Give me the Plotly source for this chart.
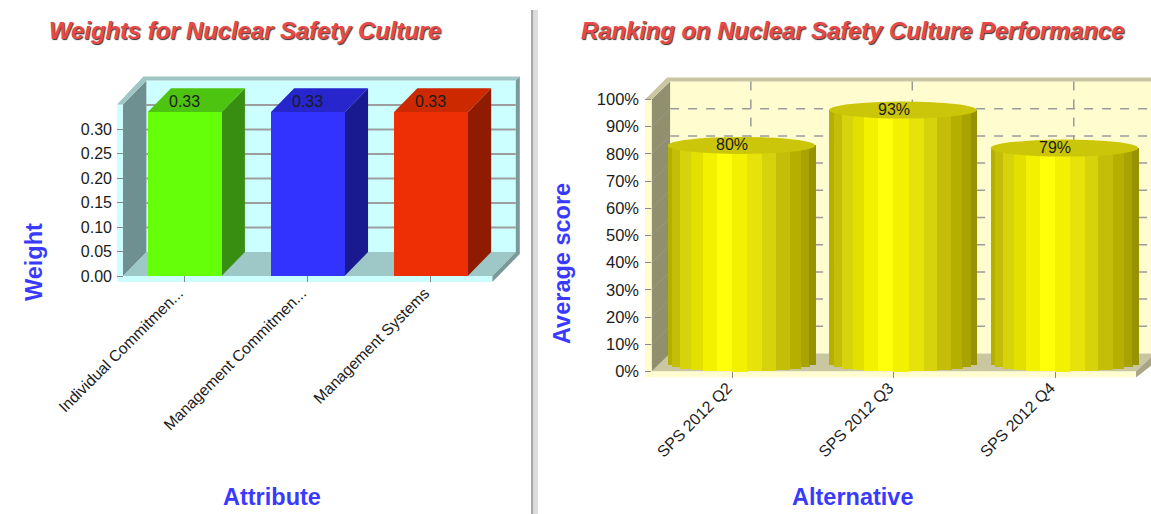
import math
import plotly.graph_objects as go

# ---------- data ----------
attributes = ["Individual Commitmen...", "Management Commitmen...", "Management Systems"]
weights = [0.334, 0.334, 0.334]
weight_ticks = [0.00, 0.05, 0.10, 0.15, 0.20, 0.25, 0.30]

alternatives = ["SPS 2012 Q2", "SPS 2012 Q3", "SPS 2012 Q4"]
scores = [0.80, 0.93, 0.79]
score_ticks = [0.0, 0.1, 0.2, 0.3, 0.4, 0.5, 0.6, 0.7, 0.8, 0.9, 1.0]

# ---------- style ----------
W, H = 1151, 514
BAR_FRONT = ["#66ff0a", "#3333ff", "#ee2e05"]
BAR_TOP = ["#4dc40f", "#2626cc", "#cc2900"]
BAR_SIDE = ["#388e10", "#191a8f", "#8f1c00"]
STRIP_EDGES = [0, .03, .086, .161, .237, .333, .435, .538, .642, .731, .828, .901, .96, 1]
STRIP_COLORS = ["#b5af00", "#c4be08", "#d6d20c", "#e3e000", "#f3f000", "#ffff0a", "#f3f000",
                "#e6e20a", "#d6d20c", "#c4be08", "#b5af00", "#a8a300", "#969200"]
BLUE = "#3a3aff"
TXT = "#1c1c1c"
FAMILY = "Liberation Sans, Arial"
TICK_FONT = dict(family=FAMILY, size=16, color=TXT)

# left panel geometry (pixels)
L = dict(x0=123.0, x1=492.4, y0=276.0, unit=490.0, dx=23.4, dy=24.0, top=0.35,
         pl=117.0, pr=522.0, pt=75.0, pb=282.0)
# right panel geometry (pixels)
R = dict(x0=651.6, x1=1136.0, y0=371.5, unit=272.0, dx=18.5, dy=18.0, top=1.0,
         pl=645.0, pr=1151.0, pt=75.0, pb=377.5)


def band(g):
    return (g["x1"] - g["x0"]) / 3.0


def dx_(g, px):      # pixel x -> data x
    return (px - g["x0"]) / band(g) - 0.5


def dy_(g, py):      # pixel y -> data y
    return (g["y0"] - py) / g["unit"]


def poly(g, xa, ya, pts, fill, line=None):
    path = "M " + " L ".join(f"{dx_(g, x):.5f},{dy_(g, y):.5f}" for x, y in pts) + " Z"
    return dict(type="path", xref=xa, yref=ya, path=path, fillcolor=fill, layer="below",
                line=dict(width=0.5 if line else 0, color=line or fill))


def seg(g, xa, ya, a, b, color, width=1.5, dash="solid"):
    return dict(type="line", xref=xa, yref=ya, x0=dx_(g, a[0]), y0=dy_(g, a[1]), x1=dx_(g, b[0]),
                y1=dy_(g, b[1]), layer="below", line=dict(color=color, width=width, dash=dash))


def py_of(g, v):
    return g["y0"] - v * g["unit"]


def room(g, xa, ya, wall, side_wall, cap, floor, edge, strip, frame_right):
    x0, x1, y0 = g["x0"], g["x1"], g["y0"]
    dx, dy = g["dx"], g["dy"]
    ytop = py_of(g, g["top"])
    s = []
    # back wall
    s.append(poly(g, xa, ya, [(x0 + dx, ytop - dy), (frame_right, ytop - dy), (frame_right, y0 - dy),
                              (x0 + dx, y0 - dy)], wall))
    # floor
    s.append(poly(g, xa, ya, [(x0, y0), (x1, y0), (x1 + dx, y0 - dy), (x0 + dx, y0 - dy)], floor))
    # left wall
    s.append(poly(g, xa, ya, [(x0, y0), (x0 + dx, y0 - dy), (x0 + dx, ytop - dy), (x0, ytop)], side_wall))
    # front strips
    s.append(poly(g, xa, ya, [(g["pl"], ytop), (x0, ytop), (x0, g["pb"]), (g["pl"], g["pb"])], strip))
    s.append(poly(g, xa, ya, [(g["pl"], y0), (x1, y0), (x1, g["pb"]), (g["pl"], g["pb"])], strip))
    # top cap
    s.append(poly(g, xa, ya, [(g["pl"], ytop), (x0 + dx - 3, ytop - dy - 4), (frame_right + 4, ytop - dy - 4),
                              (frame_right, ytop - dy), (x0 + dx, ytop - dy), (x0, ytop)], cap))
    # right frame
    s.append(poly(g, xa, ya, [(x1, g["pb"]), (x1, y0), (x1 + dx, y0 - dy), (x1 + dx, ytop - dy),
                              (frame_right + 4, ytop - dy - 4), (frame_right + 4, y0 - dy + 2)], edge))
    return s


shapes = []

# ---------- left panel background ----------
shapes += room(L, "x", "y", "#ccffff", "#6f9090", "#9fc6c6", "#9ec8c8", "#7a9a9a", "#ccffff",
               L["x1"] + L["dx"])
for t in weight_ticks[1:]:
    y = py_of(L, t)
    shapes.append(seg(L, "x", "y", (L["x0"] + L["dx"], y - L["dy"]), (L["x1"] + L["dx"], y - L["dy"]), "#9d9d9d", 2))
    shapes.append(seg(L, "x", "y", (L["x0"], y), (L["x0"] + L["dx"], y - L["dy"]), "#7f8f8f", 1))

# bar side and top faces, computed from the data
HALF = 0.3
for i, v in enumerate(weights):
    xl = L["x0"] + (i + 0.5 - HALF) * band(L)
    xr = L["x0"] + (i + 0.5 + HALF) * band(L)
    yt = py_of(L, v)
    shapes.append(poly(L, "x", "y", [(xr, L["y0"]), (xr + L["dx"], L["y0"] - L["dy"]),
                                     (xr + L["dx"], yt - L["dy"]), (xr, yt)], BAR_SIDE[i]))
    shapes.append(poly(L, "x", "y", [(xl, yt), (xr, yt), (xr + L["dx"], yt - L["dy"]),
                                     (xl + L["dx"], yt - L["dy"])], BAR_TOP[i]))

# ---------- right panel background ----------
shapes += room(R, "x2", "y2", "#fffdd0", "#90906f", "#c9c6a0", "#c9c6a0", "#a9a688", "#fffdd0", 1160.0)
for t in score_ticks[:-1]:
    y = py_of(R, t) - R["dy"]
    if t > 0:
        shapes.append(seg(R, "x2", "y2", (R["x0"] + R["dx"], y), (1151, y), "#9b9b9b", 1.5, "dash"))
        shapes.append(seg(R, "x2", "y2", (R["x0"], py_of(R, t)), (R["x0"] + R["dx"], y), "#9a9a80", 1))
for i in range(len(alternatives)):
    xp = R["x0"] + (i + 0.5) * band(R) + R["dx"]
    shapes.append(seg(R, "x2", "y2", (xp, py_of(R, 1.0) - R["dy"]), (xp, R["y0"] - R["dy"]), "#9b9b9b", 1.5, "dash"))

# ---------- traces ----------
fig = go.Figure()
xs = list(range(len(attributes)))
fig.add_trace(go.Bar(x=xs, y=weights, width=2 * HALF, marker=dict(color=BAR_FRONT, line=dict(width=0)),
                     xaxis="x", yaxis="y", showlegend=False))

# cylinders are made of thin vertical strips
CYL_L, CYL_R = -0.4, 0.513
RY_PX = 8.5
AXIS_SHIFT = RY_PX / R["unit"]
RY = RY_PX / R["unit"]
xs2 = list(range(len(alternatives)))
for k, col in enumerate(STRIP_COLORS):
    a, b = STRIP_EDGES[k], STRIP_EDGES[k + 1]
    u = (a + b) - 1.0
    base = AXIS_SHIFT - RY * math.sqrt(max(0.0, 1 - u * u))
    offset = CYL_L + (CYL_R - CYL_L) * a
    width = (CYL_R - CYL_L) * (b - a) + 0.003
    fig.add_trace(go.Bar(x=xs2, y=[s + AXIS_SHIFT - base for s in scores], base=base,
                         offset=offset, width=width, marker=dict(color=col, line=dict(width=0)),
                         xaxis="x2", yaxis="y2", showlegend=False))

for i, s in enumerate(scores):
    shapes.append(dict(type="circle", xref="x2", yref="y2", layer="above",
                       x0=i + CYL_L, x1=i + CYL_R,
                       y0=s + AXIS_SHIFT - RY, y1=s + AXIS_SHIFT + RY,
                       fillcolor="#ccc60a", line=dict(width=0)))

# divider between the panels
shapes.append(dict(type="rect", xref="paper", yref="paper", x0=531 / W, x1=533.5 / W,
                   y0=0, y1=1 - 10 / H, fillcolor="#a8a8a8", line=dict(width=0)))
shapes.append(dict(type="rect", xref="paper", yref="paper", x0=533.5 / W, x1=538 / W,
                   y0=0, y1=1 - 10 / H, fillcolor="#dcdcdc", line=dict(width=0)))

# ---------- annotations ----------
ann = []
TITLE_FONT = dict(family=FAMILY, size=23.8, color="#e84848", weight="bold",
                  style="italic", shadow="1px 1px 1px #333333")


def paper_text(text, px, py, font, angle=0):
    return dict(text=text, xref="paper", yref="paper", x=px / W, y=1 - py / H, showarrow=False,
                xanchor="center", yanchor="middle", font=font, textangle=angle)


AX_FONT = dict(family=FAMILY, size=23.5, color=BLUE, weight="bold")
ann.append(paper_text("Weights for Nuclear Safety Culture", 245, 30, TITLE_FONT))
ann.append(paper_text("Ranking on Nuclear Safety Culture Performance", 853.5, 30, TITLE_FONT))
ann.append(paper_text("Attribute", 272, 497, AX_FONT))
ann.append(paper_text("Alternative", 852, 497, AX_FONT))
ann.append(paper_text("Weight", 34, 262, AX_FONT, -90))
ann.append(paper_text("Average score", 562, 264, AX_FONT, -90))

for i, v in enumerate(weights):
    ann.append(dict(text=f"{v:.2f}", x=i, y=v, xref="x", yref="y", showarrow=False, yshift=11,
                    font=TICK_FONT, xanchor="center", yanchor="middle"))
for i, s in enumerate(scores):
    ann.append(dict(text=f"{s:.0%}", x=i, y=s, xref="x2", yref="y2", showarrow=False, yshift=9,
                    font=TICK_FONT, xanchor="center", yanchor="middle"))


def xaxis_cfg(g, labels, size, shift, standoff):
    return dict(domain=[g["pl"] / W, g["pr"] / W], range=[dx_(g, g["pl"]), dx_(g, g["pr"])],
                tickmode="array", tickvals=list(range(len(labels))), ticktext=labels,
                tickangle=-45, tickfont=dict(family=FAMILY, size=size, color=TXT),
                ticklabelshift=shift, ticklabelstandoff=standoff,
                ticks="inside", ticklen=6, tickcolor="#888888", tickwidth=1, automargin=False,
                showgrid=False, zeroline=False, showline=False, fixedrange=True)


def yaxis_cfg(g, vals, fmt, size, standoff):
    return dict(domain=[1 - g["pb"] / H, 1 - g["pt"] / H], range=[dy_(g, g["pb"]), dy_(g, g["pt"])],
                tickmode="array", tickvals=vals, ticktext=[fmt.format(v) for v in vals],
                tickfont=dict(family=FAMILY, size=size, color=TXT),
                ticks="inside", ticklen=6, tickcolor="#888888", tickwidth=1,
                ticklabelstandoff=standoff, automargin=False,
                showgrid=False, zeroline=False, showline=False, fixedrange=True)


fig.update_layout(
    width=W, height=H, autosize=False,
    margin=dict(l=0, r=0, t=0, b=0, pad=0),
    paper_bgcolor="#ffffff", plot_bgcolor="rgba(0,0,0,0)",
    barmode="overlay", bargap=0, showlegend=False,
    xaxis=xaxis_cfg(L, attributes, 15.7, -6, -2),
    yaxis=yaxis_cfg(L, weight_ticks, "{:.2f}", 16, 4),
    xaxis2=dict(xaxis_cfg(R, alternatives, 16, -5, -3), anchor="y2"),
    yaxis2=dict(yaxis_cfg(R, score_ticks, "{:.0%}", 16.5, 5), anchor="x2"),
    shapes=shapes, annotations=ann,
)

fig.write_html("out.html", config={"displayModeBar": False},
               post_script="document.body.style.margin='0';document.body.style.overflow='hidden';")
